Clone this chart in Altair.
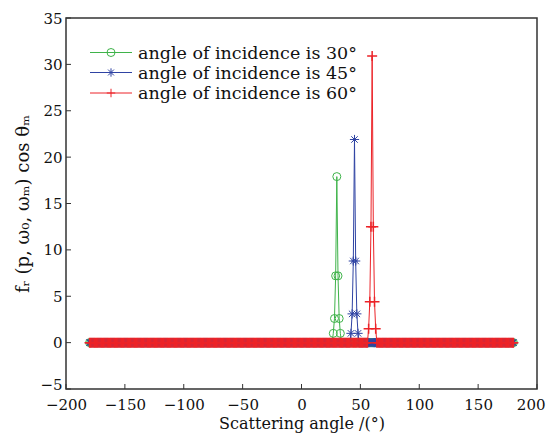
import altair as alt
import pandas as pd

# ---- data ----
angles = list(range(-180, 181))  # sampling grid, 1 degree

series_names = ["angle of incidence is 30°", "angle of incidence is 45°", "angle of incidence is 60°"]
colors = ["#3FB34A", "#2F43A3", "#EC2328"]

green_peak_angles = [27, 28, 29, 30, 31, 32, 33]
green_peak_values = [1.0, 2.6, 7.2, 17.9, 7.2, 2.6, 1.0]

blue_peak_angles = [42, 43, 44, 45, 46, 47, 48]
blue_peak_values = [1.0, 3.1, 8.8, 21.9, 8.8, 3.1, 1.0]

red_peak_angles = [57, 58, 59, 60, 61, 62, 63]
red_peak_values = [1.5, 4.4, 12.5, 30.9, 12.5, 4.4, 1.5]

x_ticks = [-200, -150, -100, -50, 0, 50, 100, 150, 200]
y_ticks = [-5, 0, 5, 10, 15, 20, 25, 30, 35]

peaks = [
    (green_peak_angles, green_peak_values),
    (blue_peak_angles, blue_peak_values),
    (red_peak_angles, red_peak_values),
]

rows = []
for s, (pa, pv) in enumerate(peaks):
    lookup = dict(zip(pa, pv))
    for a in angles:
        rows.append({"angle": a, "value": lookup.get(a, 0.0), "series": series_names[s], "order": s})
df = pd.DataFrame(rows)

W, H = 471, 371
FONT = "DejaVu Serif"

xscale = alt.Scale(domain=[-200, 200], nice=False, zero=False)
yscale = alt.Scale(domain=[-5, 35], nice=False, zero=False)

shapes = [
    "circle",
    "M-1,0L1,0M0,-1L0,1M-0.7,-0.7L0.7,0.7M-0.7,0.7L0.7,-0.7",
    "M-1,0L1,0M0,-1L0,1",
]
sizes = [64, 85, 100]
pstroke = [1, 1, 1.5]

layers = []
for s in range(3):
    sub = df[df["series"] == series_names[s]]
    base = alt.Chart(sub)
    line = base.mark_line(color=colors[s], strokeWidth=1).encode(
        x=alt.X("angle:Q", scale=xscale,
                axis=alt.Axis(values=x_ticks, title="Scattering angle /(°)", ticks=False,
                              labelExpr="replace(datum.label, '-', '−')", grid=False,
                              labelOverlap=False, labelFlush=False,
                              labelAlign={"condition": {"test": "datum.value == 200", "value": "right"},
                                          "value": "center"},
                              labelOffset={"condition": {"test": "datum.value == 200", "value": 8},
                                           "value": 0},
                              domain=False, labelPadding=8, titlePadding=3)),
        y=alt.Y("value:Q", scale=yscale,
                axis=alt.Axis(values=y_ticks, title="fᵣ (p, ω₀, ωₘ) cos θₘ", ticks=False,
                              labelExpr="replace(datum.label, '-', '−')", grid=False,
                              labelOverlap=False, labelFlush=False,
                              labelBaseline={"condition": {"test": "datum.value == -5", "value": "alphabetic"},
                                             "value": "middle"},
                              domain=False, labelPadding=4, titlePadding=7,
                              titleFontSize=18)),
        order="angle:Q",
    )
    pts = base.mark_point(shape=shapes[s], size=sizes[s], filled=False, color=colors[s],
                          strokeWidth=pstroke[s], opacity=1).encode(
        x=alt.X("angle:Q", scale=xscale),
        y=alt.Y("value:Q", scale=yscale),
    )
    layers += [line, pts]

# inward ticks (MATLAB style) drawn from the tick lists
xt = alt.Chart(pd.DataFrame({"t": x_ticks})).mark_rule(color="#333", strokeWidth=1).encode(
    x=alt.X("t:Q", scale=xscale), y=alt.value(H), y2=alt.value(H - 5))
yt = alt.Chart(pd.DataFrame({"t": y_ticks})).mark_rule(color="#333", strokeWidth=1).encode(
    y=alt.Y("t:Q", scale=yscale), x=alt.value(0), x2=alt.value(5))
layers += [xt, yt]

# manual legend (line + marker + label), positioned in pixels
leg_y = [34.5, 54.5, 75]
for s in range(3):
    ldf = pd.DataFrame({"label": [series_names[s]]})
    lb = alt.Chart(ldf)
    layers.append(lb.mark_rule(color=colors[s], strokeWidth=1).encode(
        x=alt.value(24), x2=alt.value(66), y=alt.value(leg_y[s])))
    layers.append(lb.mark_point(shape=shapes[s], size=[64, 70, 72][s], filled=False, color=colors[s],
                                strokeWidth=1, opacity=1).encode(
        x=alt.value(45), y=alt.value(leg_y[s])))
    layers.append(lb.mark_text(align="left", baseline="middle", font=FONT, fontSize=17.5,
                               color="#111").encode(
        x=alt.value(72), y=alt.value(leg_y[s] + 1), text="label:N"))

chart = alt.layer(*layers).properties(
    width=W, height=H,
    autosize=alt.AutoSizeParams(type="none"),
    padding={"left": 58, "top": 10, "right": 10, "bottom": 44},
).configure_view(
    stroke="#333", strokeWidth=1.5
).configure_axis(
    labelFont=FONT, titleFont=FONT, labelFontSize=15, titleFontSize=16,
    labelColor="#111", titleColor="#111", titleFontWeight="normal"
)

chart.save("out.html", embed_options={"renderer": "svg", "actions": False})
